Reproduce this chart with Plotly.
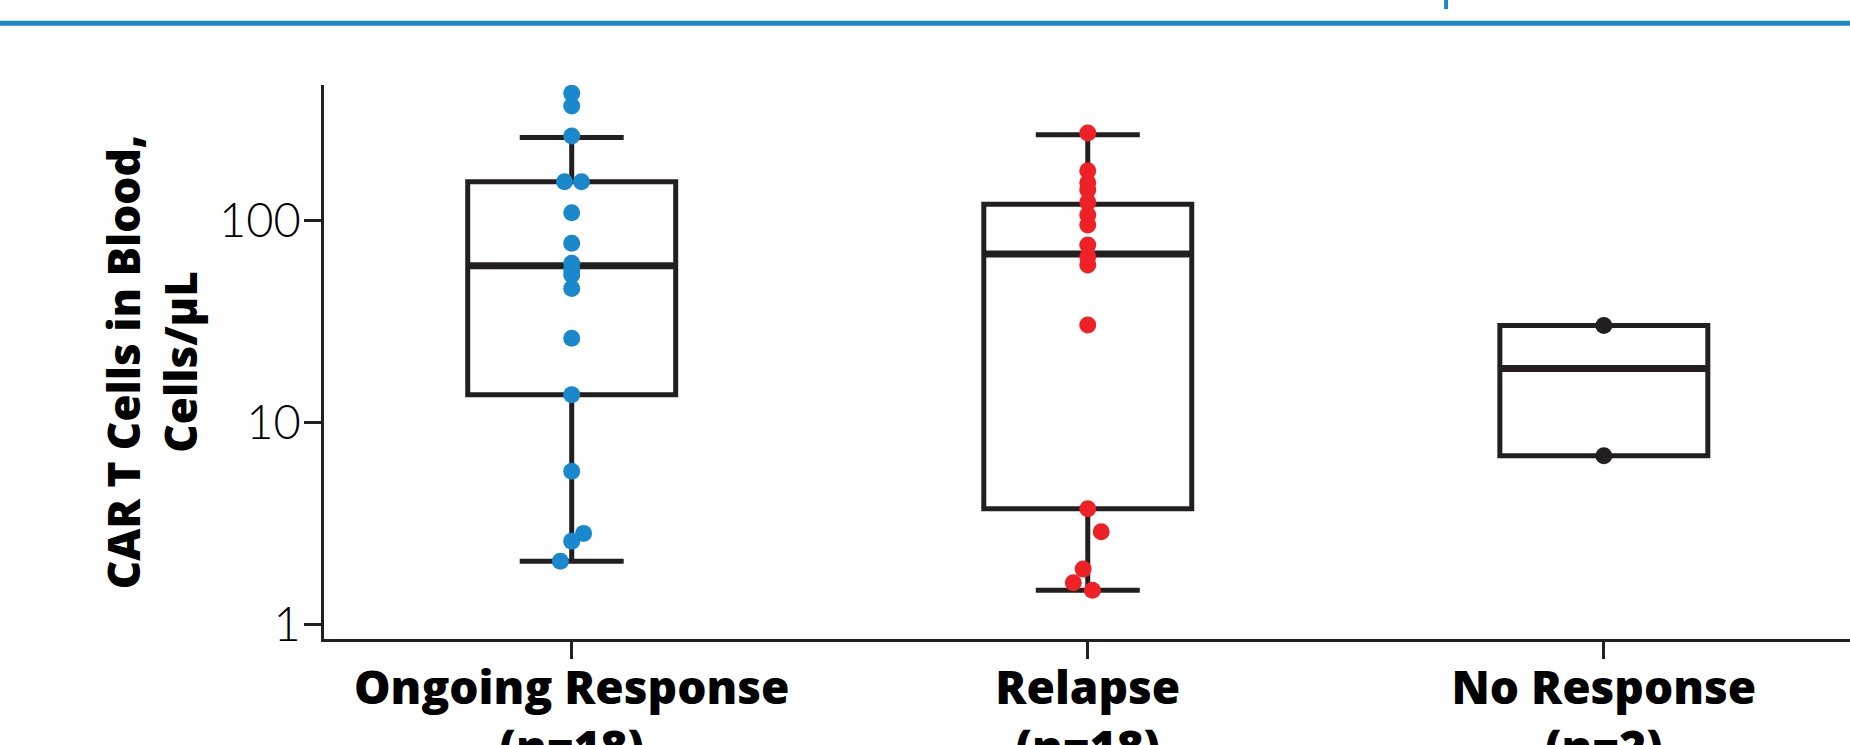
import plotly.graph_objects as go

# ---------------- data ----------------
categories = ["Ongoing Response", "Relapse", "No Response"]
category_labels = ["Ongoing Response<br>(n=18)", "Relapse<br>(n=18)", "No Response<br>(n=2)"]

# box statistics (cells/µL)
box_q1 = [13.8, 3.76, 6.88]
box_median = [59.9, 68.5, 18.6]
box_q3 = [156.1, 120.7, 30.3]
box_lowerfence = [2.07, 1.485, 6.88]
box_upperfence = [258, 266.7, 30.3]

# individual patients (cells/µL) and small horizontal jitter (category units)
ongoing_vals = [427.8, 369.7, 262.8, 156.1, 156.1, 109.7, 77.4, 61.6, 57.5, 53.9,
                46.3, 26.2, 13.8, 5.76, 2.84, 2.60, 2.07]
ongoing_jit = [0, 0, 0, -0.014, 0.019, 0, 0, 0, 0, 0,
               0, 0, 0, 0, 0.023, 0, -0.022]
relapse_vals = [271.6, 177.0, 154.3, 142.1, 123.4, 106.8, 95.3, 75.9, 66.4, 60.4,
                30.5, 3.76, 2.89, 1.89, 1.62, 1.485]
relapse_jit = [0, 0, 0, 0, 0, 0, 0, 0, 0, 0,
               0, 0, 0.026, -0.009, -0.028, 0.009]
noresp_vals = [30.3, 6.88]
noresp_jit = [0, 0]

point_colors = ["#1a88cc", "#ee2226", "#231f20"]
ytick_vals = [1, 10, 100]
ytick_text = ["1", "10", "100"]

# ---------------- style ----------------
INK = "#231f20"
BOX_W = 0.403
BOLD_FONT = "Open Sans"

fig = go.Figure()

for i in range(len(categories)):
    fig.add_trace(go.Box(
        x=[i], q1=[box_q1[i]], median=[box_median[i]], q3=[box_q3[i]],
        lowerfence=[box_lowerfence[i]], upperfence=[box_upperfence[i]],
        width=BOX_W, whiskerwidth=0.5,
        line=dict(color=INK, width=5), fillcolor="rgba(255,255,255,0)",
        boxpoints=False, hoverinfo="skip", showlegend=False,
    ))
    # thicker median bar
    fig.add_trace(go.Scatter(
        x=[i - BOX_W / 2 + 0.004, i + BOX_W / 2 - 0.004],
        y=[box_median[i], box_median[i]],
        mode="lines", line=dict(color=INK, width=7),
        hoverinfo="skip", showlegend=False,
    ))

groups = [(ongoing_vals, ongoing_jit), (relapse_vals, relapse_jit), (noresp_vals, noresp_jit)]
for i, (vals, jit) in enumerate(groups):
    fig.add_trace(go.Scatter(
        x=[i + j for j in jit], y=vals, mode="markers",
        marker=dict(size=17, color=point_colors[i], line=dict(width=0)),
        showlegend=False, name=categories[i],
    ))

fig.update_layout(
    width=1850, height=745,
    margin=dict(l=324, r=0, t=85, b=106, autoexpand=False),
    paper_bgcolor="white", plot_bgcolor="white",
    font=dict(family="Lato", color=INK),
    showlegend=False,
    shapes=[
        dict(type="line", xref="paper", yref="paper", x0=-0.22, x1=1.01,
             y0=1.1116, y1=1.1116, line=dict(color="#1b87c9", width=5)),
        dict(type="line", xref="paper", yref="paper", x0=0.7353, x1=0.7353,
             y0=1.137, y1=1.16, line=dict(color="#1b87c9", width=4)),
    ],
)

fig.update_xaxes(
    range=[-0.48, 2.477], tickmode="array", tickvals=[0, 1, 2], ticktext=category_labels,
    showgrid=False, zeroline=False, automargin=False,
    showline=True, linecolor=INK, linewidth=2.5,
    ticks="outside", ticklen=17, tickwidth=2.5, tickcolor=INK, ticklabelstandoff=-10,
    tickfont=dict(family=BOLD_FONT, size=46, color="black", weight=800),
)
fig.update_yaxes(
    type="log", range=[-0.0693, 2.672],
    tickmode="array", tickvals=ytick_vals, ticktext=ytick_text,
    showgrid=False, zeroline=False, automargin=False,
    showline=True, linecolor=INK, linewidth=2.5,
    ticks="outside", ticklen=17, tickwidth=2.5, tickcolor=INK, ticklabelstandoff=-6,
    tickfont=dict(family="Lato", size=47, color="black", weight=300),
    title=dict(text="CAR T Cells in Blood,<br>Cells/µL", standoff=8,
               font=dict(family=BOLD_FONT, size=44, color="black", weight=800)),
)

fig.write_html("out.html")
